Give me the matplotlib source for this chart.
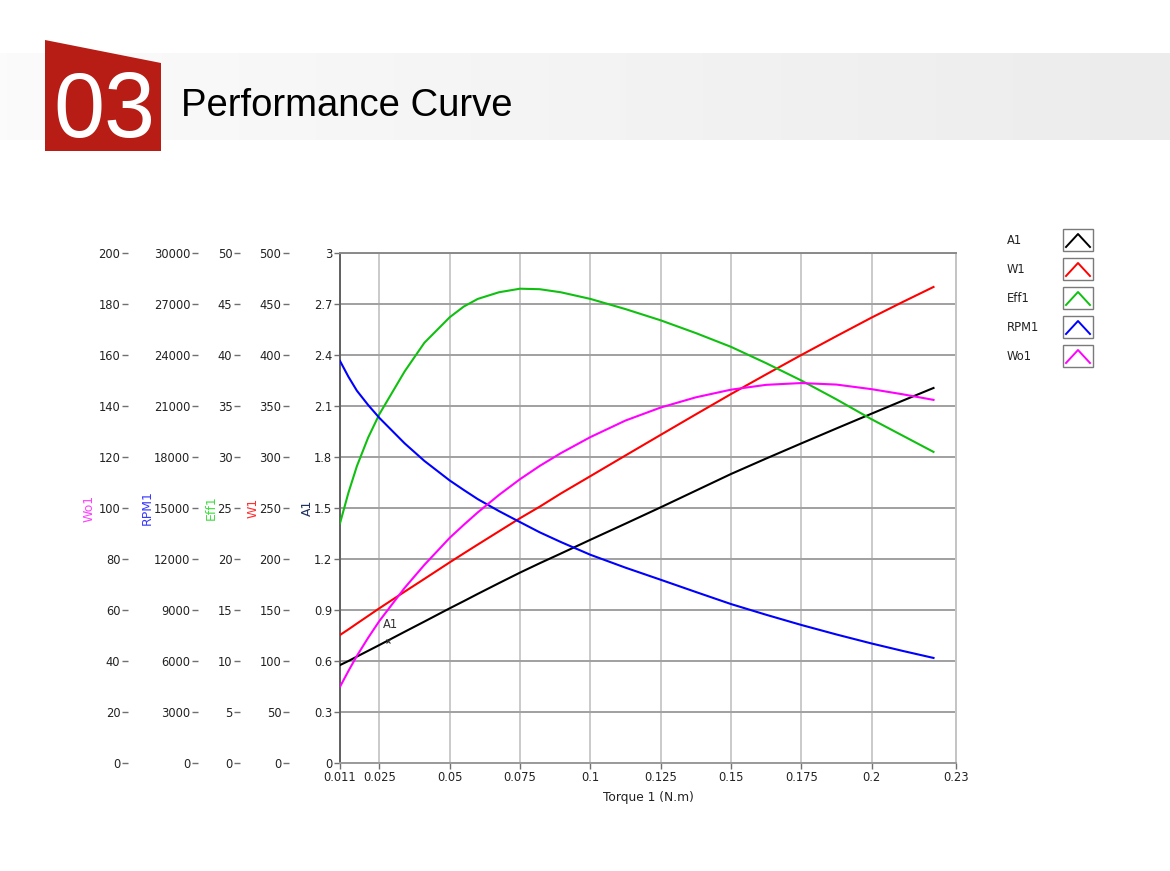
"""Performance curve of a motor: A1, W1, Eff1, RPM1, Wo1 against torque."""
import numpy as np
import matplotlib
matplotlib.use('Agg')
import matplotlib.pyplot as plt
from matplotlib.patches import Polygon, Rectangle
from matplotlib.colors import LinearSegmentedColormap

plt.rcParams['font.family'] = ['DejaVu Sans']

# ── data ───────────────────────────────────────────────────────────
torque = [0.011, 0.014, 0.017, 0.021, 0.025, 0.034, 0.041, 0.05, 0.055,
          0.06, 0.0675, 0.075, 0.082, 0.0895, 0.1, 0.1125, 0.125, 0.1375,
          0.15, 0.1625, 0.175, 0.1875, 0.2, 0.211, 0.222]
a1 = [0.576, 0.60, 0.626, 0.66, 0.694, 0.772, 0.832, 0.91, 0.952,
      0.995, 1.058, 1.12, 1.175, 1.232, 1.313, 1.408, 1.504, 1.602,
      1.70, 1.791, 1.88, 1.968, 2.055, 2.131, 2.206]
w1 = [125.5, 131.0, 136.7, 144.2, 151.7, 168.0, 180.5, 196.7, 205.5,
      214.2, 227.1, 240.0, 251.3, 264.2, 281.2, 301.5, 321.7, 341.8,
      361.7, 381.0, 400.0, 418.5, 436.7, 451.9, 466.7]
eff1 = [23.5, 26.5, 29.1, 31.9, 34.2, 38.4, 41.2, 43.7, 44.75,
        45.5, 46.15, 46.5, 46.45, 46.15, 45.5, 44.5, 43.4, 42.15,
        40.8, 39.2, 37.5, 35.65, 33.7, 32.1, 30.5]
rpm1 = [23650, 22720, 21900, 21060, 20300, 18800, 17770, 16620, 16060,
        15520, 14820, 14170, 13570, 13000, 12250, 11490, 10780, 10060,
        9350, 8720, 8120, 7560, 7030, 6595, 6180]
wo1 = [29.9, 36.1, 42.0, 49.1, 55.7, 68.7, 77.7, 88.3, 93.4,
       98.3, 105.1, 111.3, 116.5, 121.5, 127.8, 134.3, 139.4, 143.4,
       146.4, 148.3, 149.0, 148.4, 146.6, 144.6, 142.4]

x_ticks = [0.011, 0.025, 0.05, 0.075, 0.1, 0.125, 0.15, 0.175, 0.2, 0.23]
x_labels = ['0.011', '0.025', '0.05', '0.075', '0.1', '0.125',
            '0.15', '0.175', '0.2', '0.23']
a1_ticks = [0, 0.3, 0.6, 0.9, 1.2, 1.5, 1.8, 2.1, 2.4, 2.7, 3]
a1_labels = ['0', '0.3', '0.6', '0.9', '1.2', '1.5', '1.8', '2.1', '2.4', '2.7', '3']
cursor_torque = 0.0279

# ── figure + header ────────────────────────────────────────────────
fig = plt.figure(figsize=(11.7, 8.71), dpi=100)
bg = fig.add_axes([0, 0, 1, 1])
bg.axis('off')
band = LinearSegmentedColormap.from_list('band', ['#fbfbfb', '#ececec'])
bg.imshow(np.linspace(0, 1, 256)[None, :], extent=(0, 1170, 140, 53),
          cmap=band, aspect='auto', interpolation='bilinear')
bg.add_patch(Polygon([(45, 40), (161, 63), (161, 151), (45, 151)],
                     closed=True, color='#b71c15', lw=0))
bg.text(104.5, 137, '03', color='white', fontsize=66, ha='center', va='baseline',
        family=['Liberation Sans'])
bg.text(181, 116, 'Performance Curve', color='black', fontsize=27.5,
        ha='left', va='baseline', family=['Liberation Sans'])
bg.set_xlim(0, 1170)
bg.set_ylim(871, 0)

# ── main plot (A1 scale) ───────────────────────────────────────────
ax = fig.add_axes([340 / 1170, 1 - 763 / 871, 616 / 1170, 510 / 871])
ax.set_xlim(0.011, 0.23)
ax.set_ylim(0, 3)
ax.set_xticks(x_ticks)
ax.set_xticklabels(x_labels)
ax.set_yticks(a1_ticks)
ax.set_yticklabels(a1_labels)
ax.grid(axis='y', color='#a0a0a0', lw=1.4)
ax.grid(axis='x', color='#c6c6c6', lw=1.3)
ax.set_axisbelow(True)
ax.spines['left'].set_color('#606060')
ax.spines['top'].set_color('#8a8a8a')
ax.spines['bottom'].set_color('#9a9a9a')
ax.spines['right'].set_color('#c4c4c4')
for s in ax.spines.values():
    s.set_linewidth(1.4)
ax.tick_params(axis='both', direction='out', length=4, width=1,
               color='#707070', labelsize=8.3, labelcolor='#222222', pad=1.5)
ax.set_xlabel('Torque 1 (N.m)', fontsize=8.8, color='#222222', labelpad=5)
ax.set_ylabel('A1', fontsize=9, color='#1f2f5f', labelpad=0)

ax.plot(torque, a1, color='black', lw=1.5, zorder=5)
cy = np.interp(cursor_torque, torque, a1)
ax.plot([cursor_torque], [cy], marker='x', ms=3.5, mew=0.8, color='#333333',
        lw=0, zorder=6)
ax.annotate('A1', (cursor_torque, cy), xytext=(-3.6, 7.2),
            textcoords='offset points', fontsize=8.3, color='#333333',
            ha='left', va='bottom', zorder=6)

# ── extra left axes ────────────────────────────────────────────────
extra = [
    # (label, values, top, step, offset px, line colour, label colour, pad)
    ('W1', w1, 500, 50, 51, '#ff0000', '#ff3030', 0),
    ('Eff1', eff1, 50, 5, 100, '#10c010', '#40dd40', 0),
    ('RPM1', rpm1, 30000, 3000, 142, '#0000ff', '#3838ff', 0),
    ('Wo1', wo1, 200, 20, 212, '#ff00ff', '#ff40ff', 2),
]
for label, vals, top, step, off, lc, tc, pad in extra:
    tw = ax.twinx()
    tw.set_ylim(0, top)
    tw.set_yticks(np.arange(0, top + step / 2, step))
    tw.yaxis.tick_left()
    tw.yaxis.set_label_position('left')
    tw.spines['left'].set_position(('outward', off * 0.72))
    for s in tw.spines.values():
        s.set_visible(False)
    tw.tick_params(axis='y', direction='out', length=4, width=1,
                   color='#707070', labelsize=8.3, labelcolor='#222222', pad=1.5)
    tw.set_ylabel(label, fontsize=9, color=tc, labelpad=pad)
    tw.plot(torque, vals, color=lc, lw=1.5, zorder=5)

# ── legend (manual, to mimic the boxed icons) ──────────────────────
legend_items = [('A1', 'black'), ('W1', '#ff0000'), ('Eff1', '#10c010'),
                ('RPM1', '#0000ff'), ('Wo1', '#ff00ff')]
for i, (name, col) in enumerate(legend_items):
    y = 240 + 29 * i
    bg.text(1007, y, name, va='center', ha='left', fontsize=8.3, color='#222222')
    bg.add_patch(Rectangle((1063, y - 11), 30, 22, fill=False,
                           ec='#7a7a7a', lw=1.0))
    bg.plot([1066, 1078, 1090], [y + 7, y - 6, y + 7], color=col, lw=1.4)
bg.set_xlim(0, 1170)
bg.set_ylim(871, 0)

fig.savefig('out.png', dpi=100)
